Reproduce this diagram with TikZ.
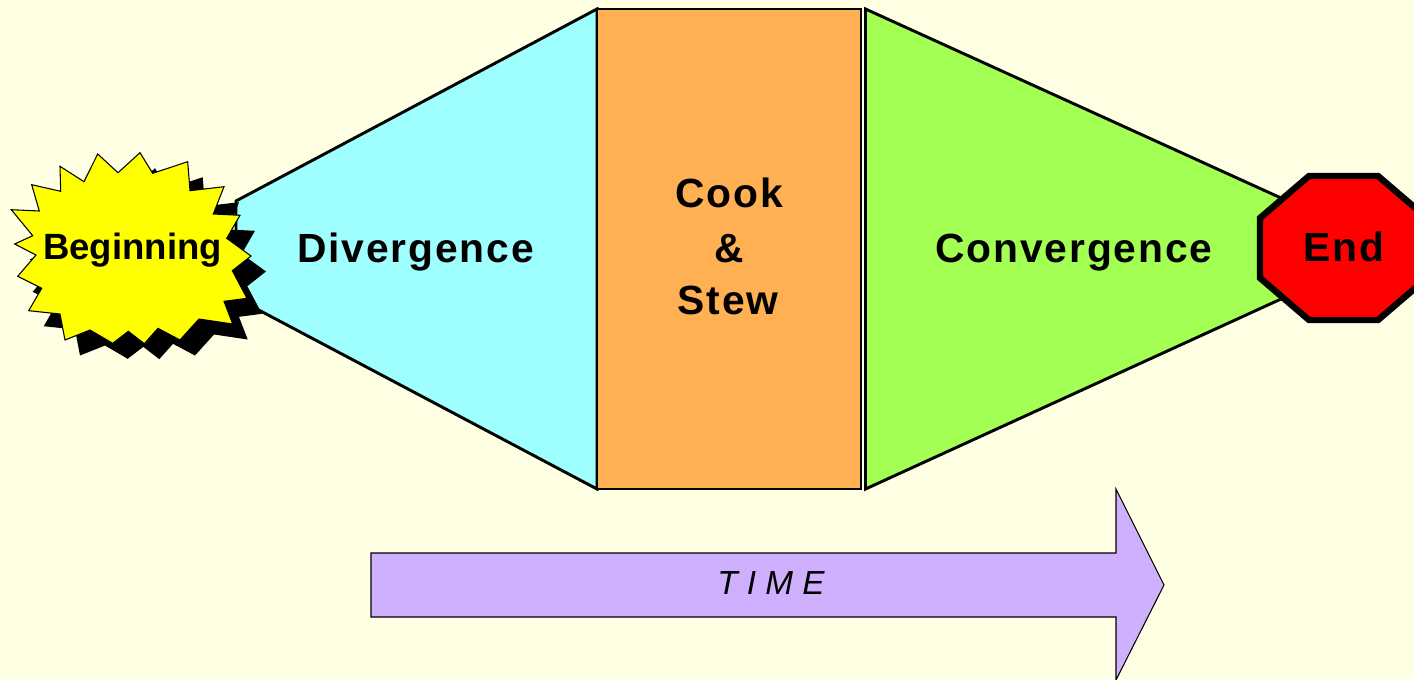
\documentclass[tikz,border=0pt]{standalone}
\usepackage{fontspec}
\setmainfont{Liberation Sans}
\newfontface\spaced[LetterSpace=4.5]{Liberation Sans Bold}
\definecolor{bgc}{HTML}{FFFFE3}
\definecolor{cyanc}{HTML}{9FFFFF}
\definecolor{orangec}{HTML}{FFB053}
\definecolor{greenc}{HTML}{A3FF53}
\definecolor{purplec}{HTML}{CFB0FF}
\definecolor{yellowc}{HTML}{FFFF00}
\definecolor{redc}{HTML}{FF0000}
\tikzset{
  phase/.style={draw=black,line width=2.2pt,line join=miter},
  biglabel/.style={font=\spaced\fontsize{30.6}{36}\selectfont,align=center,text=black,anchor=base,inner sep=0pt},
}
\begin{document}
\begin{tikzpicture}[x=0.75pt,y=-0.75pt]
\useasboundingbox (0,0) rectangle (1414,679);
\clip (0,0) rectangle (1414,679);
\fill[bgc] (0,0) rectangle (1414,679);
% phases
\path[phase,fill=cyanc] (597,9) -- (236,201) -- (236,298) -- (597,489) -- cycle;
\path[phase,fill=greenc] (865.5,9) -- (1292,203) -- (1292,294) -- (865.5,489) -- cycle;
\path[phase,fill=orangec] (597,9) rectangle (861,489);
% star
\def\starpath{(97.7,154) -- (118,172.7) -- (140,152.7) -- (152.7,173.3) -- (187.7,161.7) -- (190,190.7) -- (224,186.7) -- (213.3,214) -- (240,215.3) -- (226.7,238.3) -- (251,256) -- (232.3,270.7) -- (247,298.3) -- (224,301.3) -- (232.7,324) -- (199,319) -- (180,340) -- (158,328.3) -- (144.3,343.7) -- (128.3,331.3) -- (112.7,343.3) -- (90,330) -- (65,340) -- (60,314) -- (28.7,310.7) -- (41.7,288.3) -- (17.7,276.3) -- (36,255) -- (14.7,244) -- (32.7,235.7) -- (11.3,209.7) -- (39.3,211) -- (31.7,184.7) -- (60.7,191.3) -- (60,166.3) -- (84,181.7) -- cycle}
\fill[black,shift={(15,15.5)}] \starpath;
\draw[black,fill=yellowc,line width=0.8pt,line join=miter] \starpath;
% octagon
\draw[black,fill=redc,line width=4.8pt,line join=miter] (1309,176) -- (1378,176) -- (1427,218) -- (1427,278) -- (1378,320) -- (1309,320) -- (1260,278) -- (1260,218) -- cycle;
% arrow
\draw[black,fill=purplec,line width=0.8pt,line join=miter] (371,553) -- (1116,553) -- (1116,489) -- (1164,585) -- (1116,680) -- (1116,617) -- (371,617) -- cycle;
% labels
\node[font=\bfseries\fontsize{27.4}{32}\selectfont,anchor=base,inner sep=0pt] (beg) at (132.5,259) {Beginning};
\node[biglabel] (div) at (415.5,262) {Divergence};
\node[biglabel] (cook) at (729,207.5) {Cook};
\node[biglabel] (amp) at (729,262) {\&};
\node[biglabel] (stew) at (728,314.5) {Stew};
\node[biglabel] (conv) at (1074,262) {Convergence};
\node[biglabel] (end) at (1344,261.5) {End};
\node[font=\itshape\fontsize{25}{30}\selectfont,anchor=base,inner sep=0pt] (time) at (771,594.5) {T I M E};
\end{tikzpicture}
\end{document}
